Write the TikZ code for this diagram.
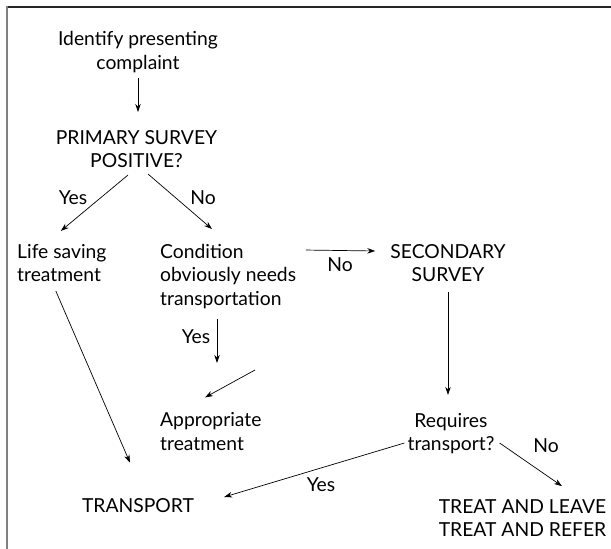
\documentclass[tikz,border=0pt]{standalone}
\usepackage{fontspec}
\setmainfont{Lato}
\usetikzlibrary{arrows.meta,calc}
\begin{document}
\begin{tikzpicture}[x=1pt,y=-1pt,
  lbl/.style={font=\fontsize{19.3}{23.5}\selectfont, inner sep=0pt},
  cbox/.style={lbl, align=center},
  lbox/.style={lbl, align=left, anchor=west},
  arr/.style={-{Stealth[length=8pt,width=5.5pt]}, line width=0.7pt},
]
\useasboundingbox (0,0) rectangle (611,549);
\draw[line width=1.6pt, black!85] (6,7) -- (611,7);
\draw[line width=2pt, black!50] (7,6) -- (7,549);

% nodes
\node[cbox] (id) at (138,52) {Identify presenting\\complaint};
\node[cbox] (ps) at (136.5,149) {PRIMARY SURVEY\\POSITIVE?};
\node[lbox] (ls) at (17,263) {Life saving\\treatment};
\node[lbox] (cond) at (160,276.5) {Condition\\obviously needs\\transportation};
\node[cbox] (sec) at (448,263) {SECONDARY\\SURVEY};
\node[lbox] (appr) at (160,431.5) {Appropriate\\treatment};
\node[cbox] (req) at (451,433.5) {Requires\\transport?};
\node[cbox] (trans) at (138,506) {TRANSPORT};
\node[cbox] (treat) at (522.5,518) {TREAT AND LEAVE\\TREAT AND REFER};

% labels
\node[lbl] (y1) at (73,198) {Yes};
\node[lbl] (n1) at (203,198) {No};
\node[lbl] (n2) at (340,265) {No};
\node[lbl] (y2) at (196,337) {Yes};
\node[lbl] (y3) at (321,485) {Yes};
\node[lbl] (n3) at (546,446) {No};

% free coordinates
\coordinate (yend) at ($(cond.south west)+(57,54)$);
\coordinate (free) at (255,370);

% connectors
\draw[arr] ($(id.south)+(0,5)$) -- ($(id.south |- ps.north)+(0,-18)$);
\draw[arr] ($(ps.south)+(-8.5,7)$) -- ($(ls.north)+(-1,-13)$);
\draw[arr] ($(ps.south)+(11.5,6)$) -- ($(cond.north west)+(52,-15)$);
\draw[arr] ($(cond.north west)+(146,6)$) -- ($(sec.north west)+(-15,7)$);
\draw[arr] ($(cond.south west)+(57,10)$) -- (yend);
\draw[arr] (free) -- ($(appr.north west)+(45,-15)$);
\draw[arr] ($(ls.south)+(-6,9)$) -- ($(trans.north)+(-8,-36)$);
\draw[arr] ($(sec.south)+(0,10)$) -- ($(sec.south |- req.north)+(0,-18)$);
\draw[arr] ($(req.west)+(-3,9.5)$) -- ($(trans.east)+(30,-9)$);
\draw[arr] ($(req.east)+(5,9.5)$) -- ($(treat.north)+(39.5,-13)$);
\end{tikzpicture}
\end{document}
